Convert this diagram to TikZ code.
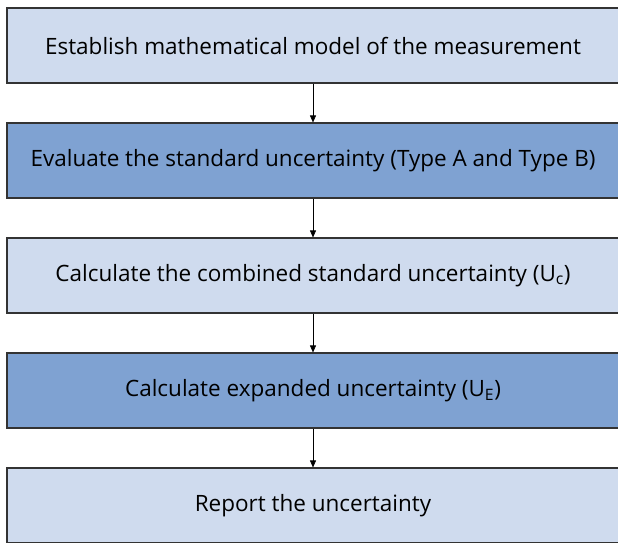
\documentclass[tikz,border=0pt]{standalone}
\usepackage{fontspec}
\setmainfont{Open Sans}
\usetikzlibrary{arrows.meta,positioning}
\definecolor{lightstep}{HTML}{CFDBEE}
\definecolor{darkstep}{HTML}{7FA2D2}
\tikzset{
  stepbox/.style={draw=black!80,line width=1.1pt,minimum width=612pt,minimum height=75pt,inner sep=0pt,font=\fontsize{22.5}{26}\selectfont},
  flowarrow/.style={-{Triangle[width=6pt,length=7pt]},line width=.6pt}
}
\begin{document}
\begin{tikzpicture}[node distance=38.9pt]
\useasboundingbox (0,0) rectangle (618pt,-542pt);
\clip (0,0) rectangle (618pt,-542pt);
\node[stepbox,fill=lightstep] (model) at (313pt,-45.5pt) {Establish mathematical model of the measurement};
\node[stepbox,fill=darkstep,below=of model] (standard) {Evaluate the standard uncertainty (Type A and Type B)};
\node[stepbox,fill=lightstep,below=of standard] (combined) {Calculate the combined standard uncertainty (U\textsubscript{c})};
\node[stepbox,fill=darkstep,below=of combined] (expanded) {Calculate expanded uncertainty (U\textsubscript{E})};
\node[stepbox,fill=lightstep,below=of expanded] (report) {Report the uncertainty};
\draw[flowarrow] (model) -- (standard);
\draw[flowarrow] (standard) -- (combined);
\draw[flowarrow] (combined) -- (expanded);
\draw[flowarrow] (expanded) -- (report);
\end{tikzpicture}
\end{document}
